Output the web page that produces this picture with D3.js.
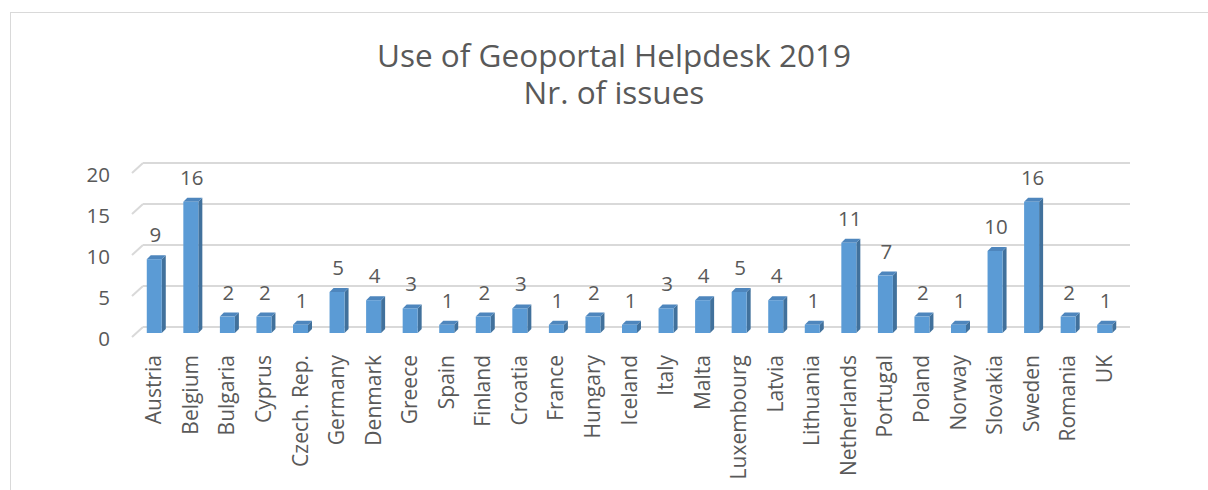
<!DOCTYPE html>
<html>
<head>
<meta charset="utf-8">
<script src="https://cdn.jsdelivr.net/npm/d3@7"></script>
<style>
  body { margin: 0; background: #fff; }
  svg { display: block; font-family: 'Open Sans', sans-serif; }
</style>
</head>
<body>
<svg id="chart" width="1208" height="490"></svg>
<script>
const countries = ['Austria', 'Belgium', 'Bulgaria', 'Cyprus', 'Czech. Rep.', 'Germany', 'Denmark', 'Greece',
  'Spain', 'Finland', 'Croatia', 'France', 'Hungary', 'Iceland', 'Italy', 'Malta', 'Luxembourg', 'Latvia',
  'Lithuania', 'Netherlands', 'Portugal', 'Poland', 'Norway', 'Slovakia', 'Sweden', 'Romania', 'UK']
const issues = [9, 16, 2, 2, 1, 5, 4, 3, 1, 2, 3, 1, 2, 1, 3, 4, 5, 4, 1, 11, 7, 2, 1, 10, 16, 2, 1]
const yTicks = [0, 5, 10, 15, 20]
const titleLines = ['Use of Geoportal Helpdesk 2019', 'Nr. of issues']

const textColor = '#595959'
const gridColor = '#d9d9d9'
const frontColor = '#5b9bd5'
const sideColor = '#41719c'
const topColor = '#4e86bd'

// depth offsets of the 3d box
const wall = { dx: 11, dy: -10 }
const plane = { dx: 4, dy: -4 }
const depth = { dx: 4, dy: -4 }

const svg = d3.select('#chart')

// chart area border
svg.append('rect')
  .attr('x', 10.5).attr('y', 12.5)
  .attr('width', 1300).attr('height', 600)
  .attr('fill', 'none').attr('stroke', gridColor).attr('stroke-width', 1)

// two-line title as one text block
svg.append('text')
  .attr('y', 67)
  .attr('text-anchor', 'middle')
  .attr('fill', textColor)
  .attr('font-size', 31.5)
  .selectAll('tspan')
  .data(titleLines)
  .enter().append('tspan')
    .attr('x', 614)
    .attr('dy', (d, i) => i === 0 ? 0 : 37)
    .text((d) => d)

const x = d3.scaleBand()
  .domain(countries)
  .range([132, 1119])
  .paddingInner(0)

const y = d3.scaleLinear()
  .domain([0, 20])
  .range([337, 173])

// gridlines on the back wall, with the short diagonal on the left side wall
const grid = svg.append('g')
grid.selectAll('line.back')
  .data(yTicks)
  .enter().append('line')
    .attr('class', 'back')
    .attr('x1', x.range()[0] + wall.dx).attr('x2', x.range()[1] + wall.dx)
    .attr('y1', (d) => y(d) + wall.dy).attr('y2', (d) => y(d) + wall.dy)
    .attr('stroke', gridColor).attr('stroke-width', 2)
grid.selectAll('line.side')
  .data(yTicks)
  .enter().append('line')
    .attr('class', 'side')
    .attr('x1', x.range()[0]).attr('x2', x.range()[0] + wall.dx)
    .attr('y1', (d) => y(d)).attr('y2', (d) => y(d) + wall.dy)
    .attr('stroke', gridColor).attr('stroke-width', 2)

svg.append('g').selectAll('text')
  .data(yTicks)
  .enter().append('text')
    .attr('x', 110)
    .attr('y', (d) => y(d) + 1)
    .attr('text-anchor', 'end')
    .attr('dominant-baseline', 'central')
    .attr('fill', textColor)
    .attr('font-size', 20.5)
    .text((d) => d)

const barW = 15
const bars = svg.append('g').selectAll('g')
  .data(countries.map((c, i) => ({ c, v: issues[i] })))
  .enter().append('g')
    .attr('transform', (d) => `translate(${x(d.c) + x.bandwidth() / 2 - barW / 2 + plane.dx},${plane.dy})`)

bars.append('path')
  .attr('fill', sideColor)
  .attr('d', (d) => `M${barW},${y(0)} L${barW + depth.dx},${y(0) + depth.dy} L${barW + depth.dx},${y(d.v) + depth.dy} L${barW},${y(d.v)} Z`)
bars.append('path')
  .attr('fill', topColor)
  .attr('d', (d) => `M0,${y(d.v)} L${depth.dx},${y(d.v) + depth.dy} L${barW + depth.dx},${y(d.v) + depth.dy} L${barW},${y(d.v)} Z`)
bars.append('rect')
  .attr('fill', frontColor)
  .attr('x', 0).attr('width', barW)
  .attr('y', (d) => y(d.v)).attr('height', (d) => y(0) - y(d.v))

bars.append('text')
  .attr('x', barW / 2 + 1)
  .attr('y', (d) => y(d.v) - 17)
  .attr('text-anchor', 'middle')
  .attr('fill', textColor)
  .attr('font-size', 20.5)
  .text((d) => d.v)

svg.append('g').selectAll('text')
  .data(countries)
  .enter().append('text')
    .attr('transform', (d) => `translate(${x(d) + x.bandwidth() / 2 + 3},355) rotate(-90)`)
    .attr('text-anchor', 'end')
    .attr('dominant-baseline', 'central')
    .attr('fill', textColor)
    .attr('font-size', 21)
    .text((d) => d)
</script>
</body>
</html>
